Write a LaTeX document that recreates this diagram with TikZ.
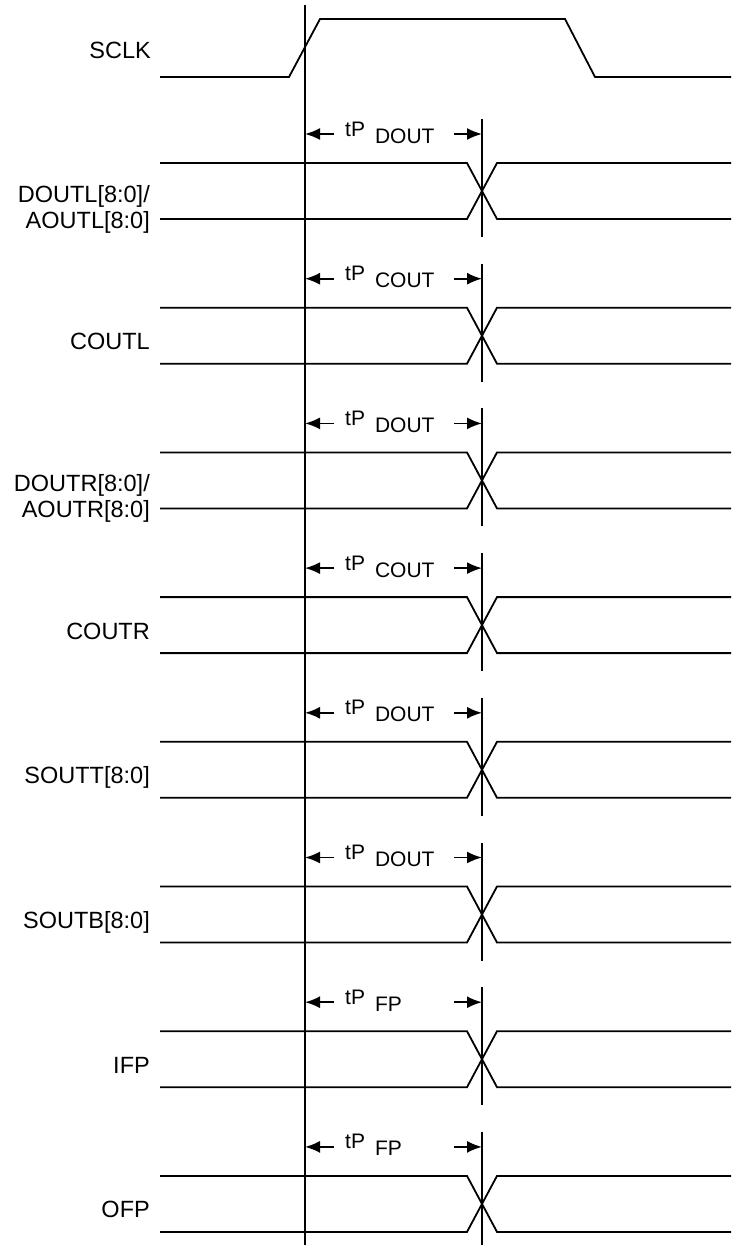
\documentclass[tikz,border=0pt]{standalone}
\usepackage{fontspec}
\setmainfont{Liberation Sans}
\usetikzlibrary{arrows.meta}

\begin{document}
\begin{tikzpicture}[
    x=1pt, y=-1pt,
    wave/.style={line width=1.8pt, line join=miter},
    marker/.style={line width=1.8pt},
    dim/.style={line width=1.8pt, -{Latex[length=15pt,width=12pt]}},
    sig/.style={font=\fontsize{23.5}{25.5}\selectfont, anchor=base east,
        align=right, inner sep=0pt},
    delay/.style={font=\fontsize{21}{23}\selectfont, anchor=base west,
        inner sep=0pt},
]
\useasboundingbox (0,0) rectangle (731,1245);

% clock
\node[sig] (sclk) at (151,58) {SCLK};
\draw[wave] (160,77) -- (289,77) -- (320,19) -- (565,19) -- (595,77) -- (731,77);

% reference edge
\coordinate (edgetop) at (305,5);
\coordinate (edgebot) at (305,1245);
\draw[marker] (edgetop) -- (edgebot);

\foreach \name/\sub/\by [count=\i from 0] in {
    {DOUTL[8:0]/\\AOUTL[8:0]}/DOUT/65,
    COUTL/COUT/42,
    {DOUTR[8:0]/\\AOUTR[8:0]}/DOUT/65,
    COUTR/COUT/42,
    SOUTT[8:0]/DOUT/42,
    SOUTB[8:0]/DOUT/42,
    IFP/FP/42,
    OFP/FP/42}
{
    \pgfmathsetmacro{\ytop}{163+144.7*\i}
    \pgfmathsetmacro{\ybot}{\ytop+56}
    % label
    \node[sig] (sig\i) at (150,\ytop+\by) {\name};
    % bus, crossing at the output edge
    \draw[wave] (160,\ytop) -- (467,\ytop) -- (497,\ybot) -- (731,\ybot);
    \draw[wave] (160,\ybot) -- (467,\ybot) -- (497,\ytop) -- (731,\ytop);
    % output edge
    \coordinate (outtop\i) at (482,\ytop-44);
    \coordinate (outbot\i) at (482,\ybot+18);
    \draw[marker] (outtop\i) -- (outbot\i);
    % delay
    \node[delay] (tp\i) at (345,\ytop-27) {tP\hspace{10pt}\raisebox{-7pt}{\sub}};
    \coordinate (left\i) at (334,\ytop-29);
    \coordinate (right\i) at (454,\ytop-29);
    \draw[dim] (left\i) -- (left\i -| edgetop);
    \draw[dim] (right\i) -- (right\i -| outtop\i);
}
\end{tikzpicture}
\end{document}
